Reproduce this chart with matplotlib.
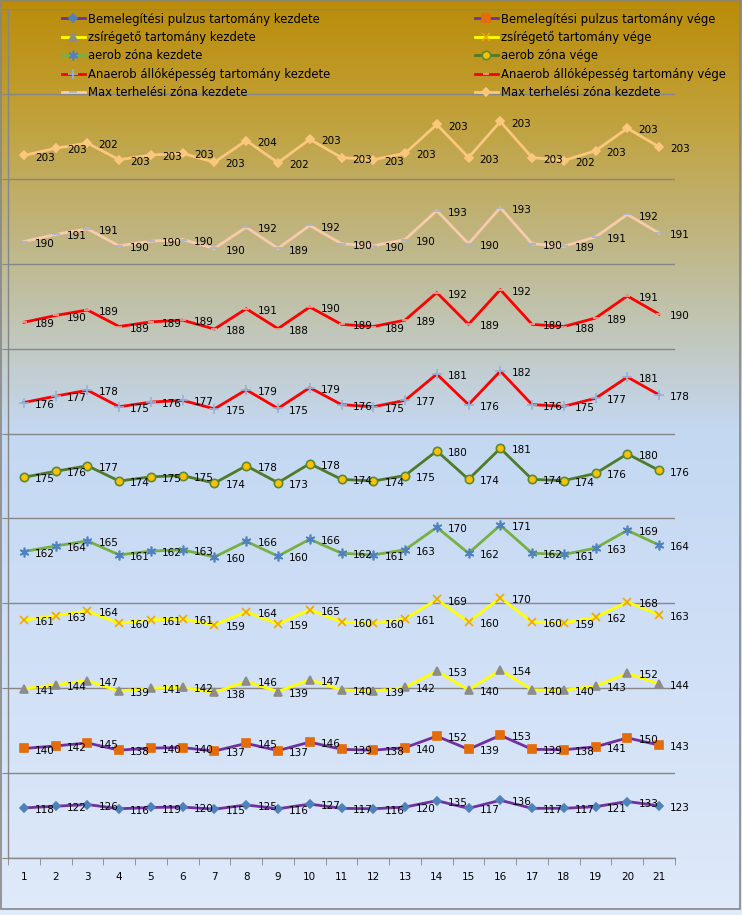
import numpy as np
import matplotlib.pyplot as plt
from matplotlib.colors import LinearSegmentedColormap
from matplotlib.patches import Rectangle

days = list(range(1, 22))
names = ["Bemelegítési pulzus tartomány kezdete",
         "Bemelegítési pulzus tartomány vége",
         "zsírégető tartomány kezdete",
         "zsírégető tartomány vége",
         "aerob zóna kezdete",
         "aerob zóna vége",
         "Anaerob állóképesség tartomány kezdete",
         "Anaerob állóképesség tartomány vége",
         "Max terhelési zóna kezdete",
         "Max terhelési zóna kezdete"]
bem_kezd = [118, 122, 126, 116, 119, 120, 115, 125, 116, 127, 117, 116, 120, 135, 117, 136, 117, 117, 121, 133, 123]
bem_vege = [140, 142, 145, 138, 140, 140, 137, 145, 137, 146, 139, 138, 140, 152, 139, 153, 139, 138, 141, 150, 143]
zsir_kezd = [141, 144, 147, 139, 141, 142, 138, 146, 139, 147, 140, 139, 142, 153, 140, 154, 140, 140, 143, 152, 144]
zsir_vege = [161, 163, 164, 160, 161, 161, 159, 164, 159, 165, 160, 160, 161, 169, 160, 170, 160, 159, 162, 168, 163]
aerob_kezd = [162, 164, 165, 161, 162, 163, 160, 166, 160, 166, 162, 161, 163, 170, 162, 171, 162, 161, 163, 169, 164]
aerob_vege = [175, 176, 177, 174, 175, 175, 174, 178, 173, 178, 174, 174, 175, 180, 174, 181, 174, 174, 176, 180, 176]
anaer_kezd = [176, 177, 178, 175, 176, 177, 175, 179, 175, 179, 176, 175, 177, 181, 176, 182, 176, 175, 177, 181, 178]
anaer_vege = [189, 190, 189, 189, 189, 189, 188, 191, 188, 190, 189, 189, 189, 192, 189, 192, 189, 188, 189, 191, 190]
max_kezd = [190, 191, 191, 190, 190, 190, 190, 192, 189, 192, 190, 190, 190, 193, 190, 193, 190, 189, 191, 192, 191]
max_kezd2 = [203, 203, 202, 203, 203, 203, 203, 204, 202, 203, 203, 203, 203, 203, 203, 203, 203, 202, 203, 203, 203]

series = [bem_kezd, bem_vege, zsir_kezd, zsir_vege, aerob_kezd,
          aerob_vege, anaer_kezd, anaer_vege, max_kezd, max_kezd2]

# style per series: line colour, marker, marker face, marker edge, size
styles = [
    ("#7030A0", "D", "#4F81BD", "#4F81BD", 4.5),
    ("#7030A0", "s", "#E46C0A", "#E46C0A", 5.5),
    ("#FFFF00", "^", "#8C8C8C", "#8C8C8C", 6),
    ("#FFFF00", "x", "#F0A800", "#F0A800", 6),
    ("#77B041", (6, 2, 0), "#4F81BD", "#4F81BD", 7),
    ("#4F7A28", "o", "#FFC000", "#5A8A32", 6),
    ("#FF0000", "+", "#95B3D7", "#95B3D7", 7),
    ("#FF0000", "_", "#F4A6A0", "#F4A6A0", 5),
    ("#F8CBAD", "_", "#A6B4C8", "#A6B4C8", 6),
    ("#FAC77D", "D", "#FAC77D", "#FAC77D", 4.5),
]

plt.rcParams['font.family'] = 'DejaVu Sans'
fig = plt.figure(figsize=(7.42, 9.15), dpi=100)
W, H = 742, 915

# background gradient
bg = fig.add_axes([0, 0, 1, 1], zorder=0)
cmap = LinearSegmentedColormap.from_list("bg", [
    (0.0, "#BA8C08"), (0.12, "#C1A036"), (0.30, "#BFBC98"),
    (0.47, "#C4D8F2"), (0.70, "#CFDFF6"), (1.0, "#DFEAFA")])
grad = np.linspace(0, 1, 256).reshape(-1, 1)
bg.imshow(grad, aspect="auto", cmap=cmap, extent=[0, 1, 0, 1], origin="upper")
bg.set_xlim(0, 1)
bg.set_ylim(0, 1)
bg.axis("off")
bg.add_patch(Rectangle((0.5 / W, 1 - 909 / H), (740 - 0.5) / W, 908 / H,
                       fill=False, edgecolor="#868686", lw=1.2))

ax = fig.add_axes([8 / W, 1 - 858 / H, (675 - 8) / W, (858 - 9) / H], zorder=1)
ax.patch.set_alpha(0)

cum = np.cumsum(np.array(series), axis=0)
lines = []
for vals, c, (lc, m, mf, me, ms) in zip(series, cum, styles):
    ln, = ax.plot(days, c, color=lc, lw=2, marker=m, markerfacecolor=mf,
                  markeredgecolor=me, markersize=ms, markeredgewidth=1.2, zorder=3)
    lines.append(ln)
    for x, y, v in zip(days, c, vals):
        ax.annotate(str(v), (x, y), xytext=(8, -1.5), textcoords="offset points",
                    ha="left", va="center", fontsize=7.5, color="black",
                    zorder=5, annotation_clip=False)

ax.set_xlim(0.5, 21.5)
ax.set_ylim(0, 2000)
ax.set_yticks(np.arange(0, 2001, 200))
ax.set_yticklabels([])
ax.grid(axis="y", color="#868686", lw=1)
ax.set_axisbelow(True)
ax.set_xticks(days)
ax.set_xticklabels([str(d) for d in days], fontsize=7.5)
ax.set_xticks(np.arange(0.5, 22, 1), minor=True)
ax.tick_params(axis="x", which="major", length=0, pad=10)
ax.tick_params(axis="x", which="minor", length=5, color="#868686", direction="out")
ax.tick_params(axis="y", length=4, color="#868686", direction="out")
for s in ["top", "right"]:
    ax.spines[s].set_visible(False)
for s in ["left", "bottom"]:
    ax.spines[s].set_color("#868686")
    ax.spines[s].set_linewidth(1)

# legend: two columns
kw = dict(loc="upper left", frameon=False, fontsize=8.4, borderpad=0, borderaxespad=0,
          handlelength=1.95, handletextpad=0.25, labelspacing=0.46, numpoints=1)
leg1 = fig.legend([lines[i] for i in (0, 2, 4, 6, 8)],
                  [names[i] for i in (0, 2, 4, 6, 8)],
                  bbox_to_anchor=(62 / W, 1 - 12.5 / H), **kw)
leg2 = fig.legend([lines[i] for i in (1, 3, 5, 7, 9)],
                  [names[i] for i in (1, 3, 5, 7, 9)],
                  bbox_to_anchor=(475 / W, 1 - 12.5 / H), **kw)
leg1.set_zorder(6)
leg2.set_zorder(6)

fig.savefig("out.png", dpi=100)
